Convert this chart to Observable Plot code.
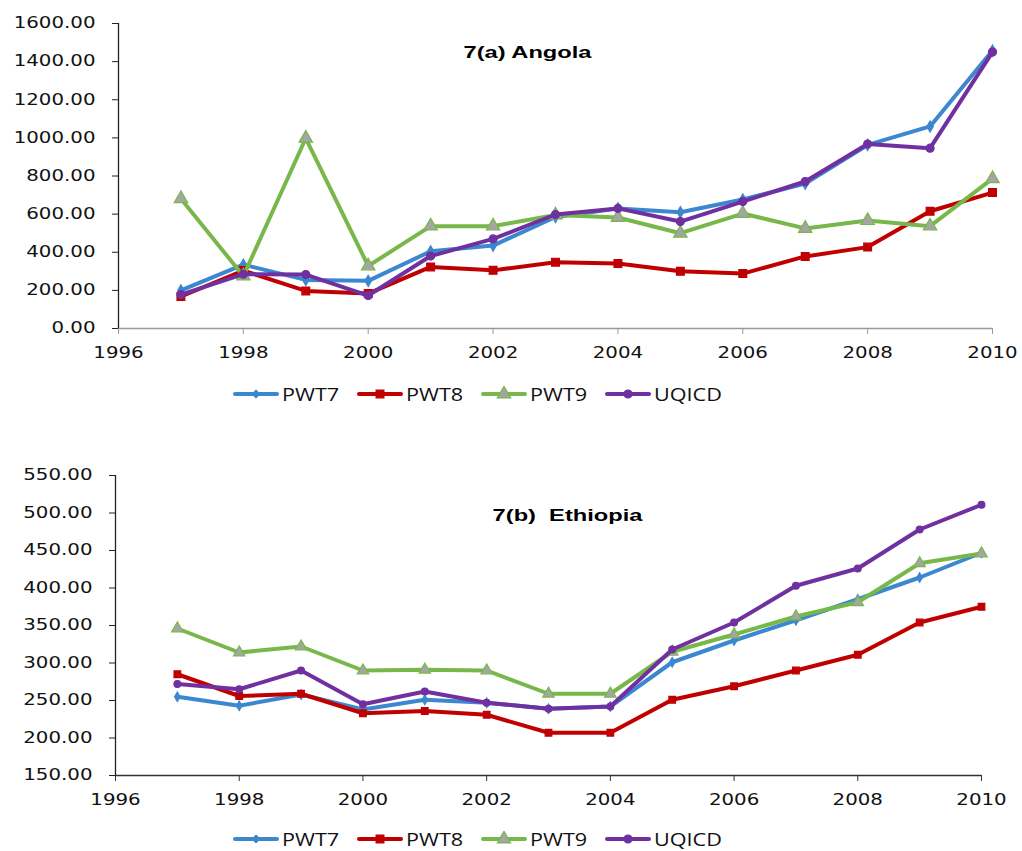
<!DOCTYPE html>
<html><head><meta charset="utf-8">
<script src="https://cdn.jsdelivr.net/npm/d3@7"></script>
<script src="https://cdn.jsdelivr.net/npm/@observablehq/plot@0.6"></script>
<style>
body{margin:0;background:#fff;}
#root{position:relative;width:1022px;height:851px;overflow:hidden;}
.chart{position:absolute;left:0;}
.legend{position:absolute;display:flex;align-items:center;font-family:"Open Sans",sans-serif;font-size:18px;color:#111;}
.legend .item{display:flex;align-items:center;width:124px;}
.legend .item svg{margin-right:3px;}
.legend .item span{display:inline-block;transform:scaleX(1.2);transform-origin:left center;}
</style></head>
<body><div id="root"></div>
<script>
const years = [1997,1998,1999,2000,2001,2002,2003,2004,2005,2006,2007,2008,2009,2010];
const seriesNames = ["PWT7","PWT8","PWT9","UQICD"];
const colors = ["#3b87d0","#c00000","#78b84b","#7030a0"];

const angolaPWT7  = [200,335,255,250,405,435,585,630,610,677,760,963,1060,1458];
const angolaPWT8  = [168,304,197,183,323,305,348,341,300,288,378,427,615,713];
const angolaPWT9  = [681,275,998,328,537,537,595,582,500,603,525,566,537,786];
const angolaUQICD = [178,285,283,173,380,470,598,630,561,666,771,968,946,1450];

const ethPWT7  = [255,243,258,238,251,247,239,242,301,330,357,385,414,447];
const ethPWT8  = [285,256,259,233,236,231,207,207,251,269,290,311,354,375];
const ethPWT9  = [346,314,322,290,291,290,259,259,315,338,362,381,433,446];
const ethUQICD = [272,265,290,245,262,247,239,242,318,354,403,426,478,511];

const xTicks = [1996,1998,2000,2002,2004,2006,2008,2010];
const angolaYTicks = [0,200,400,600,800,1000,1200,1400,1600];
const ethYTicks = [150,200,250,300,350,400,450,500,550];
const titles = ["7(a) Angola", "7(b)\u00a0 Ethiopia"];

const markerStyles = [
  {symbol:"diamond", r:3.4, fill:colors[0], stroke:colors[0]},
  {symbol:"square", r:4.4, fill:colors[1], stroke:colors[1]},
  {symbol:"triangle", r:5, fill:"#a5a5a5", stroke:colors[2]},
  {symbol:"circle", r:4, fill:colors[3], stroke:colors[3]}
];

function rows(arrs){
  return arrs.map((vals,si)=>years.map((y,i)=>({year:y, value:vals[i], series:seriesNames[si]})));
}

function stretchText(sel, s){
  sel.each(function(){
    const el = d3.select(this);
    const x = +el.attr("x") || 0, y = +el.attr("y") || 0;
    const t = el.attr("transform") || "";
    el.attr("transform", `${t} translate(${x},${y}) scale(${s},1) translate(${-x},${-y})`);
  });
}

function makeChart(arrs, yDomain, yTicks, opts){
  const data = rows(arrs);
  const marks = [];
  marks.push(Plot.ruleY([yDomain[0]], {stroke:opts.xAxisColor, strokeWidth:1.3}));
  marks.push(Plot.ruleX([1996], {stroke:"#222", strokeWidth:1.3}));
  marks.push(Plot.axisY({ticks:yTicks, tickFormat:d3.format(".2f"), tickSize:6, tickPadding:17, stroke:"#222", fill:"#111", label:null}));
  marks.push(Plot.axisX({ticks:xTicks, tickFormat:d=>String(d), tickSize:6, tickPadding:13, stroke:opts.xAxisColor, fill:"#111", label:null}));
  data.forEach((d,si)=>{
    marks.push(Plot.line(d, {x:"year", y:"value", stroke:colors[si], strokeWidth:4, strokeLinejoin:"round", strokeLinecap:"round"}));
    const m = markerStyles[si];
    marks.push(Plot.dot(d, {x:"year", y:"value", symbol:m.symbol, r:m.r*opts.markerScale, fill:m.fill, stroke:m.stroke, strokeWidth:1.2}));
  });
  marks.push(Plot.text([opts.title], {frameAnchor:"top-left", dx:opts.tdx, dy:opts.tdy, text:d=>d, textAnchor:"middle", lineAnchor:"middle", fontWeight:"bold", fontSize:16, fontFamily:"Liberation Sans, Arial, sans-serif", fill:"#000"}));
  const svg = Plot.plot({
    width:1022, height:opts.height,
    marginLeft:opts.ml, marginRight:opts.mr, marginTop:opts.mt, marginBottom:opts.mb,
    x:{domain:[1996,2010]},
    y:{domain:yDomain},
    style:{fontSize:"15px", fontFamily:"DejaVu Sans, Verdana, sans-serif", background:"#fff", overflow:"visible"},
    marks
  });
  const allText = d3.select(svg).selectAll("text");
  stretchText(allText.filter(function(){ return this.textContent === opts.title; }), 1.48);
  stretchText(allText.filter(function(){ return this.textContent !== opts.title; }), 1.32);
  return svg;
}

function makeLegend(top){
  const div = document.createElement("div");
  div.className = "legend";
  div.style.left = "233px";
  div.style.top = top + "px";
  const symMap = {diamond:d3.symbolDiamond2||d3.symbolDiamond, square:d3.symbolSquare, triangle:d3.symbolTriangle, circle:d3.symbolCircle};
  seriesNames.forEach((name,i)=>{
    const item = document.createElement("div");
    item.className = "item";
    const svg = d3.create("svg").attr("width",46).attr("height",16);
    svg.append("line").attr("x1",2).attr("x2",44).attr("y1",8).attr("y2",8)
      .attr("stroke",colors[i]).attr("stroke-width",4).attr("stroke-linecap","round");
    const m = markerStyles[i];
    svg.append("path").attr("transform","translate(23,8)")
      .attr("d", d3.symbol(symMap[m.symbol], Math.PI*m.r*m.r)())
      .attr("fill",m.fill).attr("stroke",m.stroke).attr("stroke-width",1.2);
    item.appendChild(svg.node());
    const t = document.createElement("span");
    t.textContent = name;
    item.appendChild(t);
    div.appendChild(item);
  });
  return div;
}

const root = document.getElementById("root");

const c1 = makeChart([angolaPWT7,angolaPWT8,angolaPWT9,angolaUQICD],[0,1600],angolaYTicks,
  {height:368, ml:118, mr:30, mt:23, mb:40, xAxisColor:"#999", title:titles[0], tdx:409, tdy:29, markerScale:1});
c1.classList.add("chart"); c1.style.top = "0px";
root.appendChild(c1);
root.appendChild(makeLegend(382));

const c2 = makeChart([ethPWT7,ethPWT8,ethPWT9,ethUQICD],[150,550],ethYTicks,
  {height:397, ml:115, mr:41, mt:55, mb:42, xAxisColor:"#333", title:titles[1], tdx:452, tdy:40, markerScale:0.85});
c2.classList.add("chart"); c2.style.top = "420px";
root.appendChild(c2);
root.appendChild(makeLegend(827));
</script>
</body></html>
